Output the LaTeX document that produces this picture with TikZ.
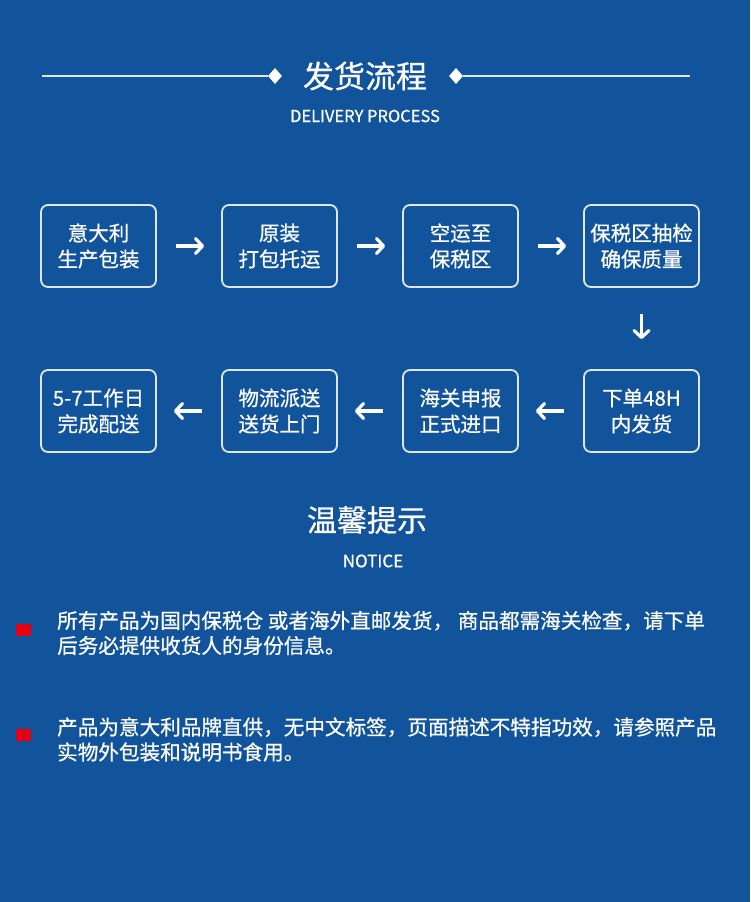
\documentclass[tikz,border=0pt]{standalone}
\usepackage{fontspec}
\setmainfont{Noto Sans CJK SC}[FakeBold=0.6]
\usepackage{tikz}
\usetikzlibrary{arrows.meta,shapes.geometric}
\definecolor{bgblue}{RGB}{18,84,156}
\definecolor{boxline}{RGB}{222,231,242}
\definecolor{dotred}{RGB}{230,0,18}

\begin{document}
\begin{tikzpicture}[x=1pt,y=-1pt,>={Straight Barb[length=7pt,width=15pt,round]},node distance=181pt,
                    flow box/.style={draw=boxline,line width=1.8pt,rounded corners=7pt,minimum width=115pt,
                      minimum height=82pt,text=white,align=center,font=\fontsize{20.5}{26}\selectfont},
                    mark box/.style={fill=dotred,minimum width=15pt,minimum height=12pt,inner sep=0pt},
                    gem/.style={diamond,fill=white,inner sep=0pt,minimum width=14pt,minimum height=16pt}]

  \fill[bgblue] (0,0) rectangle (750,902);

  % heading
  \node[text=white,font=\fontsize{31}{31}\selectfont] (title) at (365,76) {发货流程};
  \node[gem] (ldia) at (275,76) {};
  \node[gem] (rdia) at (456,76) {};
  \coordinate (lend) at (42,76);
  \coordinate (rend) at (690,76);
  \draw[boxline,line width=1.4pt] (lend) -- (ldia) (rdia) -- (rend);
  \node[text=white,font=\fontsize{16.5}{16.5}\selectfont] (sub) at (365,116) {DELIVERY PROCESS};

  % steps
  \node[flow box] (1) at (98.5,246) {意大利\\生产包装};
  \node[flow box] (2) [right of=1] {原装\\打包托运};
  \node[flow box] (3) [right of=2] {空运至\\保税区};
  \node[flow box] (4) [right of=3] {保税区抽检\\确保质量};
  \node[flow box] (5) [node distance=165pt,below of=4] {下单48H\\内发货};
  \node[flow box] (6) [left of=5] {海关申报\\正式进口};
  \node[flow box] (7) [left of=6] {物流派送\\送货上门};
  \node[flow box] (8) [left of=7] {5-7工作日\\完成配送};

  \path[->,draw=white,line width=3.2pt,shorten <=19pt,shorten >=17pt]
    (1) edge (2)
    (2) edge (3)
    (3) edge (4)
    (5) edge (6)
    (6) edge (7)
    (7) edge (8);
  \path[->,draw=white,line width=3.2pt,shorten <=26pt,shorten >=30pt]
    (4) edge (5);

  % notice
  \node[text=white,font=\fontsize{30}{30}\selectfont] (notice) at (367,520) {温馨提示};
  \node[text=white,font=\fontsize{17}{17}\selectfont] (nsub) at (373,561) {NOTICE};

  \node[mark box] (b1) at (23.5,629.5) {};
  \node[mark box] (b2) at (23.5,735) {};
  \node[text=white,anchor=west,align=left,inner sep=0pt,font=\fontsize{20.6}{25}\selectfont] (t1) at (57,633)
    {所有产品为国内保税仓 或者海外直邮发货， 商品都需海关检查，请下单\\后务必提供收货人的身份信息。};
  \node[text=white,anchor=west,align=left,inner sep=0pt,font=\fontsize{20.6}{25}\selectfont] (t2) at (57,739.5)
    {产品为意大利品牌直供，无中文标签，页面描述不特指功效，请参照产品\\实物外包装和说明书食用。};
\end{tikzpicture}
\end{document}
